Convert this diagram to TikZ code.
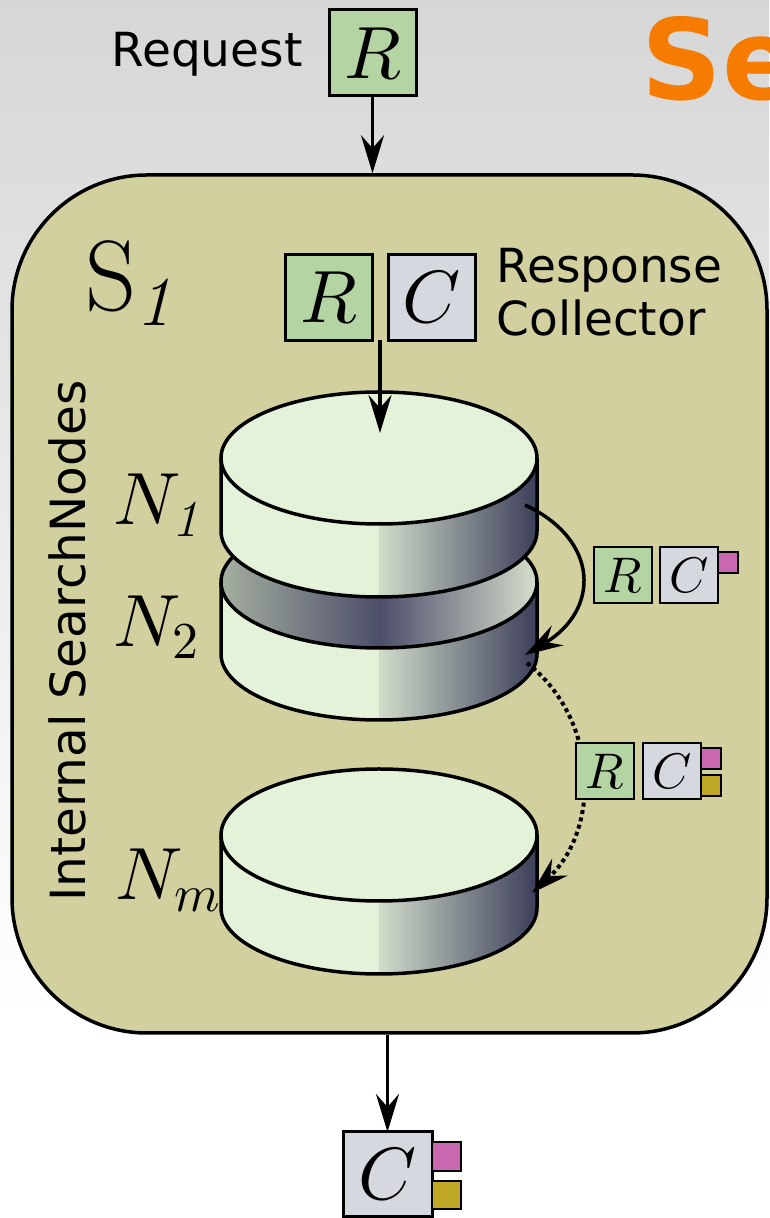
\RequirePackage{fix-cm}
\documentclass[tikz,border=0pt]{standalone}
\DeclareFontShape{OML}{cmm}{m}{it}{<->cmmi10}{}
\DeclareFontShape{OT1}{cmr}{m}{n}{<->cmr10}{}
\DeclareFontShape{OT1}{cmr}{m}{it}{<->cmti10}{}
\usepackage{fontspec}
\newfontfamily\dejavu{DejaVu Sans}
\usepackage{tikz}
\usetikzlibrary{positioning}
\usetikzlibrary{arrows.meta}

\definecolor{reqgreen}{RGB}{180,212,164}
\definecolor{colgrey}{RGB}{214,216,224}
\definecolor{hoppink}{RGB}{201,103,176}
\definecolor{hopolive}{RGB}{190,168,38}
\definecolor{srvkhaki}{RGB}{211,208,160}
\definecolor{cyllight}{RGB}{229,242,218}
\definecolor{cyldark}{RGB}{58,60,88}
\definecolor{bandleft}{RGB}{165,175,160}
\definecolor{bandmid}{RGB}{76,78,106}
\definecolor{bandright}{RGB}{214,222,204}
\definecolor{titleorange}{RGB}{245,124,0}

\newcommand{\bigmath}{\fontsize{74}{80}\selectfont}
\newcommand{\smallmath}{\fontsize{50}{56}\selectfont}
\newcommand{\hugemath}{\fontsize{100}{110}\selectfont}
\newcommand{\sanslabel}{\dejavu\fontsize{47}{54}\selectfont}

% side of a disk: centre x, top y, bottom y
\newcommand{\cylbody}[3]{%
\fill[cyllight] (#1-158,#2) -- (#1-158,#3) arc[start angle=180,end angle=360,x radius=158,y radius=66] -- (#1+158,#2) arc[start angle=0,end angle=-180,x radius=158,y radius=66] -- cycle;
\begin{scope}
\clip (#1-158,#2) -- (#1-158,#3) arc[start angle=180,end angle=360,x radius=158,y radius=66] -- (#1+158,#2) arc[start angle=0,end angle=-180,x radius=158,y radius=66] -- cycle;
\shade[left color=cyllight!88!cyldark,right color=cyldark] (#1,#3-70) rectangle (#1+160,#2);
\end{scope}
\draw[cylline] (#1-158,#2) -- (#1-158,#3) arc[start angle=180,end angle=360,x radius=158,y radius=66] -- (#1+158,#2);
}

\begin{document}
\begin{tikzpicture}[x=1pt,y=1pt,
flow/.style={line width=3.5pt,-{Stealth[length=38pt,width=23pt,inset=13pt]}},
hopdots/.style={line width=4pt,dash pattern=on 4pt off 3.5pt},
cylline/.style={line width=3.5pt},
server/.style={draw,line width=3.5pt,fill=srvkhaki,rounded corners=135pt,minimum width=755pt,minimum height=858pt,inner sep=0pt},
rbox/.style={draw,line width=3pt,fill=reqgreen,minimum width=87pt,minimum height=86pt,inner sep=0pt,outer sep=0pt,font=\bigmath},
cbox/.style={rbox,fill=colgrey},
hop/.style={minimum width=58pt,minimum height=56pt,line width=2.5pt,font=\smallmath},
flag/.style={draw,line width=2pt,inner sep=0pt,outer sep=0pt,minimum width=20pt,minimum height=21pt}]

\useasboundingbox (0,0) rectangle (769,1218);
\clip (0,0) rectangle (769,1218);
\shade[top color=black!16,bottom color=white] (0,200) rectangle (769,1218);
\fill[white] (0,0) rectangle (769,200);

\node[font=\dejavu\bfseries\fontsize{112}{120}\selectfont,text=titleorange,anchor=base west] (title) at (638,1118) {Se};

\node[server] (srv) at (389.5,614) {};

\node[font=\sanslabel,anchor=base east] (request) at (306,1151) {Request};
\node[rbox] (reqR) at (372.5,1165) {$R$};
\draw[flow] (reqR.south) -- (reqR.south |- srv.north);

\node[anchor=base west,font=\hugemath] (s1lbl) at (82,907) {$\mathrm{S}_{\mathit{1}}$};
\node[rbox] (colR) at (328.5,920.5) {$R$};
\node[cbox,right=16pt of colR] (colC) {$C$};
\node[font=\sanslabel,anchor=base west] (colResp) at (493,935) {Response};
\node[font=\sanslabel,anchor=base west] (colColl) at (493,882) {Collector};

\node[font=\dejavu\fontsize{48.5}{54}\selectfont,rotate=90,anchor=base] (internal) at (85,577) {Internal SearchNodes};

\cylbody{379}{383}{310}
\draw[cylline,fill=cyllight] (379,383) ellipse[x radius=158,y radius=66];
\cylbody{379}{636}{564}
\shade[left color=bandleft,right color=bandright,middle color=bandmid] (379,636) ellipse[x radius=158,y radius=66];
\draw[cylline] (379,636) ellipse[x radius=158,y radius=66];
\cylbody{379}{760}{687}
\draw[cylline,fill=cyllight] (379,760) ellipse[x radius=158,y radius=66];

\node[anchor=base west,font=\bigmath] (n1lbl) at (110,693) {$N_{\mathit{1}}$};
\node[anchor=base west,font=\bigmath] (n2lbl) at (110,571) {$N_{2}$};
\node[anchor=base west,font=\bigmath] (nmlbl) at (112,318) {$N_{m}$};

\coordinate (n1in) at (380,785);
\coordinate (n1out) at (525,713);
\coordinate (n2in) at (525,563);
\coordinate (n2out) at (527,555);
\coordinate (nmin) at (532,325);
\draw[flow] ([xshift=8pt]colR.south east) -- (n1in);
\draw[flow] (n1out) .. controls (600,678) and (600,608) .. (n2in);
\draw[flow,hopdots] (n2out) .. controls (600,498) and (600,388) .. (nmin);

\node[rbox,hop] (hopR) at (623,643) {$R$};
\node[cbox,hop,right=8pt of hopR] (hopC) {$C$};
\node[flag,fill=hoppink,anchor=north west] (hopP) at ([yshift=-5pt]hopC.north east) {};

\node[rbox,hop] (hop2R) at (605,447) {$R$};
\node[cbox,hop,right=9pt of hop2R] (hop2C) {$C$};
\node[flag,fill=hoppink,anchor=north west] (hop2P) at ([yshift=-5pt]hop2C.north east) {};
\node[flag,fill=hopolive,below=6pt of hop2P] (hop2Y) {};

\node[cbox,minimum width=89pt,minimum height=85pt] (outC) at (387.5,43.5) {$C$};
\draw[flow] (outC.north |- srv.south) -- (outC.north);
\node[flag,fill=hoppink,minimum width=29pt,minimum height=29pt,anchor=north west] (outP) at ([yshift=-10pt]outC.north east) {};
\node[flag,fill=hopolive,minimum width=29pt,minimum height=28pt,below=10pt of outP] (outY) {};

\end{tikzpicture}
\end{document}
